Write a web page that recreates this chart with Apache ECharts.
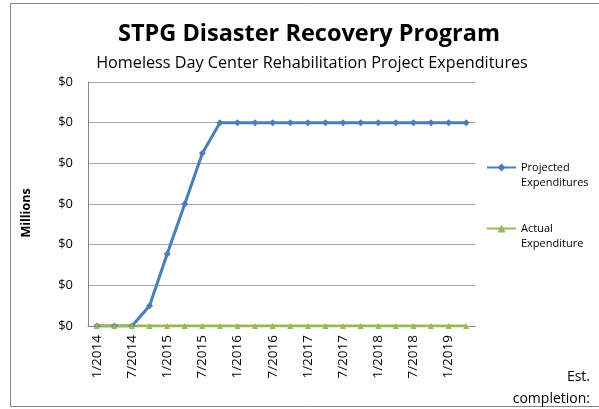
<!DOCTYPE html>
<html>
<head>
<meta charset="utf-8">
<script src="https://cdn.jsdelivr.net/npm/echarts@6/dist/echarts.min.js"></script>
<style>
	html, body { margin: 0; padding: 0; background: #fff; }
	#main { width: 599px; height: 409px; }
</style>
</head>
<body>
<div id="main"></div>
<script>
// quarters, millions of dollars
var quarters = [ '1/2014', '4/2014', '7/2014', '10/2014', '1/2015', '4/2015', '7/2015', '10/2015',
		'1/2016', '4/2016', '7/2016', '10/2016', '1/2017', '4/2017', '7/2017', '10/2017',
		'1/2018', '4/2018', '7/2018', '10/2018', '1/2019', '4/2019' ];
var projected = [ 0, 0, 0, 0.025, 0.0885, 0.15, 0.2125, 0.25,
		0.25, 0.25, 0.25, 0.25, 0.25, 0.25, 0.25, 0.25,
		0.25, 0.25, 0.25, 0.25, 0.25, 0.25 ];
var actual = [ 0, 0, 0, 0, 0, 0, 0, 0,
		0, 0, 0, 0, 0, 0, 0, 0,
		0, 0, 0, 0, 0, 0 ];

var font = "'Open Sans', sans-serif";
var chart = echarts.init(document.getElementById('main'));

var option = {
	animation : false,
	title : [ {
		text : 'STPG Disaster Recovery Program',
		left : 304,
		top : 17,
		textAlign : 'center',
		textStyle : { fontFamily : font, fontSize : 23.5, fontWeight : 'bold', color : '#000' }
	}, {
		text : 'Homeless Day Center Rehabilitation Project Expenditures',
		left : 307,
		top : 50,
		textAlign : 'center',
		textStyle : { fontFamily : font, fontSize : 16.2, fontWeight : 'normal', color : '#000' }
	} ],
	legend : {
		orient : 'vertical',
		left : 481,
		top : 140,
		itemGap : 16,
		itemWidth : 29,
		itemHeight : 10,
		// blank first line so the icon sits beside the first line of text
		formatter : function(name) { return ' \n' + name; },
		textStyle : { fontFamily : font, fontSize : 11, color : '#000', lineHeight : 15 },
		data : [
			{ name : 'Projected\nExpenditures' },
			{ name : 'Actual\nExpenditure' }
		]
	},
	grid : { left : 88, right : 124, top : 82, bottom : 83 },
	xAxis : {
		type : 'category',
		boundaryGap : true,
		data : quarters,
		axisLine : { lineStyle : { color : '#868686' } },
		axisTick : { show : false },
		axisLabel : {
			interval : 1,
			rotate : 90,
			margin : 9,
			fontFamily : font,
			fontSize : 13.5,
			color : '#000'
		}
	},
	yAxis : {
		type : 'value',
		min : 0,
		max : 0.3,
		interval : 0.05,
		axisLine : { show : true, lineStyle : { color : '#868686' } },
		axisTick : { show : false },
		splitLine : { lineStyle : { color : '#a6a6a6', width : 1 } },
		axisLabel : {
			margin : 15,
			fontFamily : font,
			fontSize : 13,
			color : '#000',
			formatter : function(v) { return '$' + Math.round(v); }
		}
	},
	series : [ {
		name : 'Projected\nExpenditures',
		type : 'line',
		data : projected,
		symbol : 'diamond',
		symbolSize : 7,
		lineStyle : { color : '#4a7ebb', width : 3 },
		itemStyle : { color : '#4a7ebb' }
	}, {
		name : 'Actual\nExpenditure',
		type : 'line',
		data : actual,
		symbol : 'triangle',
		symbolSize : 6,
		lineStyle : { color : '#98b954', width : 3 },
		itemStyle : { color : '#98b954' }
	} ],
	graphic : [ {
		type : 'rect',
		shape : { x : 10.5, y : 3.5, width : 600, height : 403 },
		style : { fill : 'none', stroke : '#868686', lineWidth : 1 },
		silent : true
	}, {
		type : 'text',
		x : 26,
		y : 213,
		rotation : Math.PI / 2,
		style : {
			text : 'Millions',
			align : 'center',
			verticalAlign : 'middle',
			fontFamily : font,
			fontSize : 12.5,
			fontWeight : 'bold',
			fill : '#000'
		}
	}, {
		type : 'text',
		x : 590,
		y : 366,
		style : {
			text : 'Est.\ncompletion:',
			align : 'right',
			fontFamily : font,
			fontSize : 14,
			lineHeight : 22,
			fill : '#000'
		}
	} ]
};

chart.setOption(option);
</script>
</body>
</html>
